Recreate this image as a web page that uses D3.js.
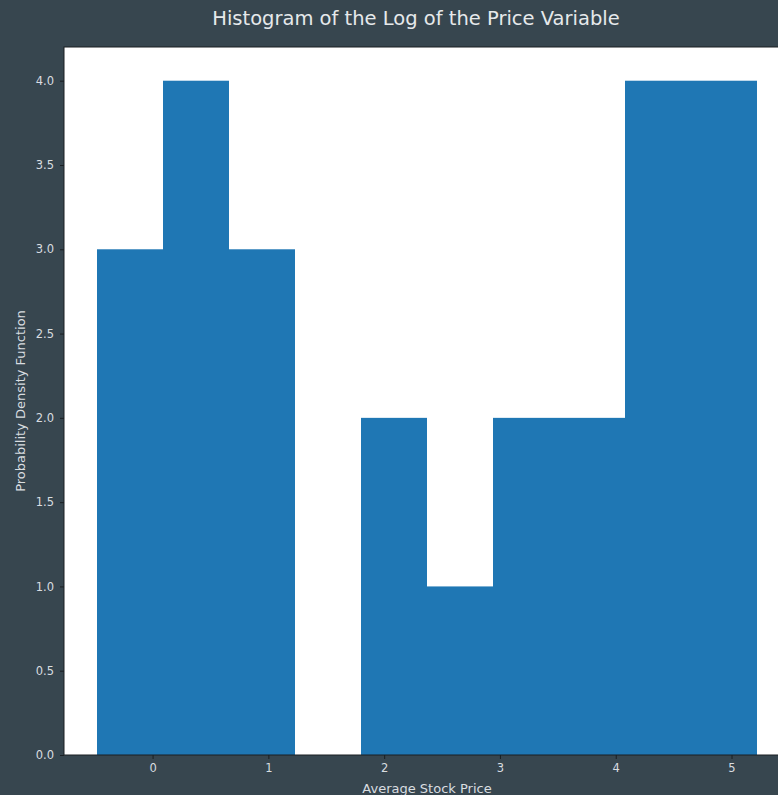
<!DOCTYPE html>
<html>
<head>
<meta charset="utf-8">
<script src="https://cdn.jsdelivr.net/npm/d3@7"></script>
<style>
  html, body { margin: 0; padding: 0; background: #37464f; }
  svg { display: block; }
  text { font-family: "DejaVu Sans", sans-serif; }
</style>
</head>
<body>
<svg id="chart" width="778" height="795"></svg>
<script>
// Histogram bins of log(price): edges and density per bin
const binEdges = [-0.48, 0.09, 0.66, 1.23, 1.80, 2.37, 2.94, 3.51, 4.08, 4.65, 5.22];
const densities = [3, 4, 3, 0, 2, 1, 2, 2, 4, 4];
const xTicks = [0, 1, 2, 3, 4, 5];
const yTicks = [0.0, 0.5, 1.0, 1.5, 2.0, 2.5, 3.0, 3.5, 4.0];

const titleText = "Histogram of the Log of the Price Variable";
const xLabelText = "Average Stock Price";
const yLabelText = "Probability Density Function";

const W = 778, H = 795;
const plot = { left: 64, top: 47, right: 790, bottom: 755 };

const bins = densities.map((d, i) => ({ x0: binEdges[i], x1: binEdges[i + 1], value: d }));

// axis limits with 5% padding on x, like the plotting default
const xmin = binEdges[0], xmax = binEdges[binEdges.length - 1];
const pad = (xmax - xmin) * 0.05;
const x = d3.scaleLinear().domain([xmin - pad, xmax + pad]).range([plot.left, plot.right]);
const y = d3.scaleLinear().domain([0, d3.max(densities) * 1.05]).range([plot.bottom, plot.top]);

const svg = d3.select("#chart");
const textColor = "#d9dde0";

svg.append("rect").attr("width", W).attr("height", H).attr("fill", "#37464f");

svg.append("rect")
  .attr("x", plot.left).attr("y", plot.top)
  .attr("width", plot.right - plot.left).attr("height", plot.bottom - plot.top)
  .attr("fill", "#ffffff");

svg.append("g").selectAll("rect").data(bins).join("rect")
  .attr("x", d => x(d.x0))
  .attr("y", d => y(d.value))
  .attr("width", d => x(d.x1) - x(d.x0))
  .attr("height", d => y(0) - y(d.value))
  .attr("fill", "#1f77b4");

// frame
svg.append("rect")
  .attr("x", plot.left).attr("y", plot.top)
  .attr("width", plot.right - plot.left).attr("height", plot.bottom - plot.top)
  .attr("fill", "none").attr("stroke", "#1a1f22").attr("stroke-width", 1);

const xAxis = svg.append("g")
  .attr("transform", `translate(0,${plot.bottom})`)
  .call(d3.axisBottom(x).tickValues(xTicks).tickFormat(d3.format("d")).tickSize(4).tickPadding(5));
const yAxis = svg.append("g")
  .attr("transform", `translate(${plot.left},0)`)
  .call(d3.axisLeft(y).tickValues(yTicks).tickFormat(d3.format(".1f")).tickSize(4).tickPadding(6));

[xAxis, yAxis].forEach(g => {
  g.select(".domain").remove();
  g.selectAll(".tick line").attr("stroke", "#1a1f22");
  g.selectAll(".tick text").attr("fill", textColor).attr("font-size", 11.5)
    .attr("font-family", "DejaVu Sans, sans-serif");
});

svg.append("text")
  .attr("x", 416).attr("y", 25)
  .attr("text-anchor", "middle").attr("fill", "#e6e9eb")
  .attr("font-size", 19.5).text(titleText);

svg.append("text")
  .attr("x", 427).attr("y", 793)
  .attr("text-anchor", "middle").attr("fill", textColor)
  .attr("font-size", 13).text(xLabelText);

svg.append("text")
  .attr("transform", `translate(25,${(plot.top + plot.bottom) / 2}) rotate(-90)`)
  .attr("text-anchor", "middle").attr("fill", textColor)
  .attr("font-size", 13).text(yLabelText);
</script>
</body>
</html>
